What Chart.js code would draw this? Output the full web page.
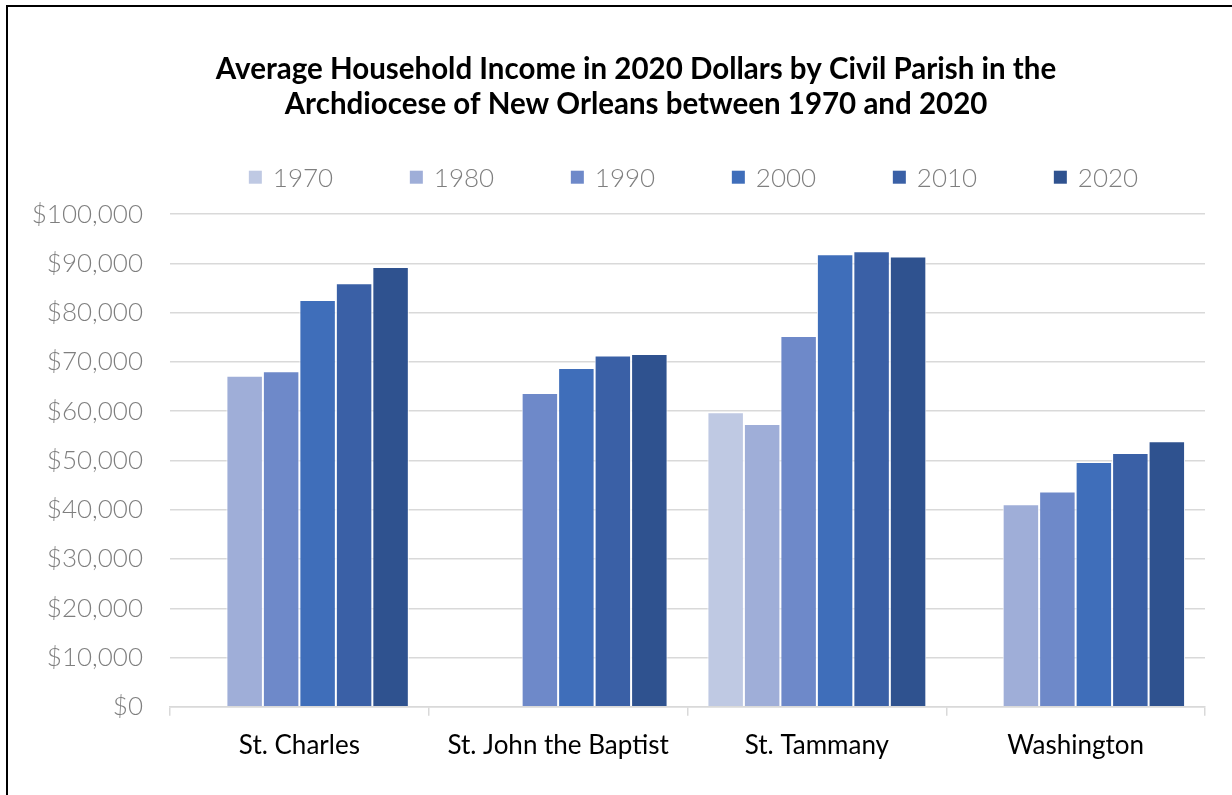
<!DOCTYPE html>
<html>
<head>
<meta charset="utf-8">
<script src="https://cdn.jsdelivr.net/npm/chart.js@4.4.1/dist/chart.umd.min.js"></script>
<style>
  html, body { margin: 0; padding: 0; background: #fff; overflow: hidden; width: 1232px; height: 795px; }
  #frame { position: absolute; left: 6px; top: 5px; width: 1300px; height: 900px; border: 2px solid #000; box-sizing: border-box; }
  #c { position: absolute; left: 0; top: 0; }
</style>
</head>
<body>
<div id="frame"></div>
<canvas id="c" width="1262" height="795"></canvas>
<script>
// ---- data ----
const titleLines = ['Average Household Income in 2020 Dollars by Civil Parish in the', 'Archdiocese of New Orleans between 1970 and 2020'];
const parishes = ['St. Charles', 'St. John the Baptist', 'St. Tammany', 'Washington'];
const years = ['1970', '1980', '1990', '2000', '2010', '2020'];
const income1970 = [null, null, 59800, null];
const income1980 = [67200, null, 57400, 41100];
const income1990 = [68100, 63700, 75300, 43700];
const income2000 = [82600, 68800, 91850, 49700];
const income2010 = [86000, 71300, 92500, 51500];
const income2020 = [89300, 71600, 91400, 53900];
const yearColors = ['#BFC9E3', '#9FAED8', '#6E89C9', '#3F6EBA', '#3A60A6', '#2F528F'];
const yMin = 0, yMax = 100000, yStep = 10000;

const seriesValues = [income1970, income1980, income1990, income2000, income2010, income2020];

const datasets = years.map((y, i) => ({
  label: y,
  data: seriesValues[i],
  backgroundColor: yearColors[i],
  borderColor: '#FFFFFF',
  borderWidth: 1,
  borderSkipped: 'bottom',
  categoryPercentage: 0.846,
  barPercentage: 1.0
}));

// legend drawn in Excel style (square + gray text), items from the datasets
const excelLegend = {
  id: 'excelLegend',
  afterDraw(chart, args, opts) {
    const ctx = chart.ctx;
    const items = chart.data.datasets.map(ds => ({ text: ds.label, color: ds.backgroundColor }));
    ctx.save();
    ctx.font = opts.font;
    ctx.textBaseline = 'middle';
    ctx.textAlign = 'left';
    const lastW = opts.box + opts.gap + ctx.measureText(items[items.length - 1].text).width;
    const total = opts.pitch * (items.length - 1) + lastW;
    const cx = (chart.chartArea.left + chart.chartArea.right) / 2 + opts.shiftX;
    const cy = chart.chartArea.top + opts.offsetY;
    let x = cx - total / 2;
    items.forEach(it => {
      ctx.fillStyle = it.color;
      ctx.fillRect(x, cy - opts.box / 2, opts.box, opts.box);
      ctx.fillStyle = opts.color;
      ctx.fillText(it.text, x + opts.box + opts.gap, cy + 1);
      x += opts.pitch;
    });
    ctx.restore();
  }
};

const ctx = document.getElementById('c').getContext('2d');
new Chart(ctx, {
  type: 'bar',
  data: { labels: parishes, datasets },
  plugins: [excelLegend],
  options: {
    responsive: false,
    animation: false,
    devicePixelRatio: 1,
    layout: { padding: { left: 10, right: 0, top: 52, bottom: 20 } },
    plugins: {
      legend: { display: false },
      tooltip: { enabled: false },
      title: {
        display: true,
        text: titleLines,
        color: '#000000',
        font: { family: 'Lato', size: 29.5, weight: 'bold', lineHeight: 1.19 },
        padding: { top: 0, bottom: 92 }
      },
      excelLegend: {
        font: '300 26px Lato',
        color: '#7F7F7F',
        box: 13,
        gap: 11,
        pitch: 161,
        shiftX: 6,
        offsetY: -37
      }
    },
    scales: {
      x: {
        grid: { display: true, drawOnChartArea: false, drawTicks: true, tickLength: 9, offset: true, color: '#D9D9D9', lineWidth: 1.5 },
        border: { display: true, color: '#D9D9D9', width: 1.5 },
        ticks: { color: '#000000', font: { family: 'Lato', size: 26 }, padding: 14 }
      },
      y: {
        min: yMin, max: yMax,
        afterFit(scale) { scale.width = 160; },
        grid: { color: '#D9D9D9', lineWidth: 1.5, drawTicks: false },
        border: { display: false },
        ticks: {
          stepSize: yStep,
          color: '#7F7F7F',
          font: { family: 'Lato', size: 26, weight: 300 },
          padding: 27,
          callback: v => '$' + Number(v).toLocaleString('en-US')
        }
      },
      spacer: {
        type: 'linear',
        position: 'right',
        display: true,
        afterFit(scale) { scale.width = 57; },
        grid: { display: false },
        border: { display: false },
        ticks: { display: false }
      }
    }
  }
});
</script>
</body>
</html>
